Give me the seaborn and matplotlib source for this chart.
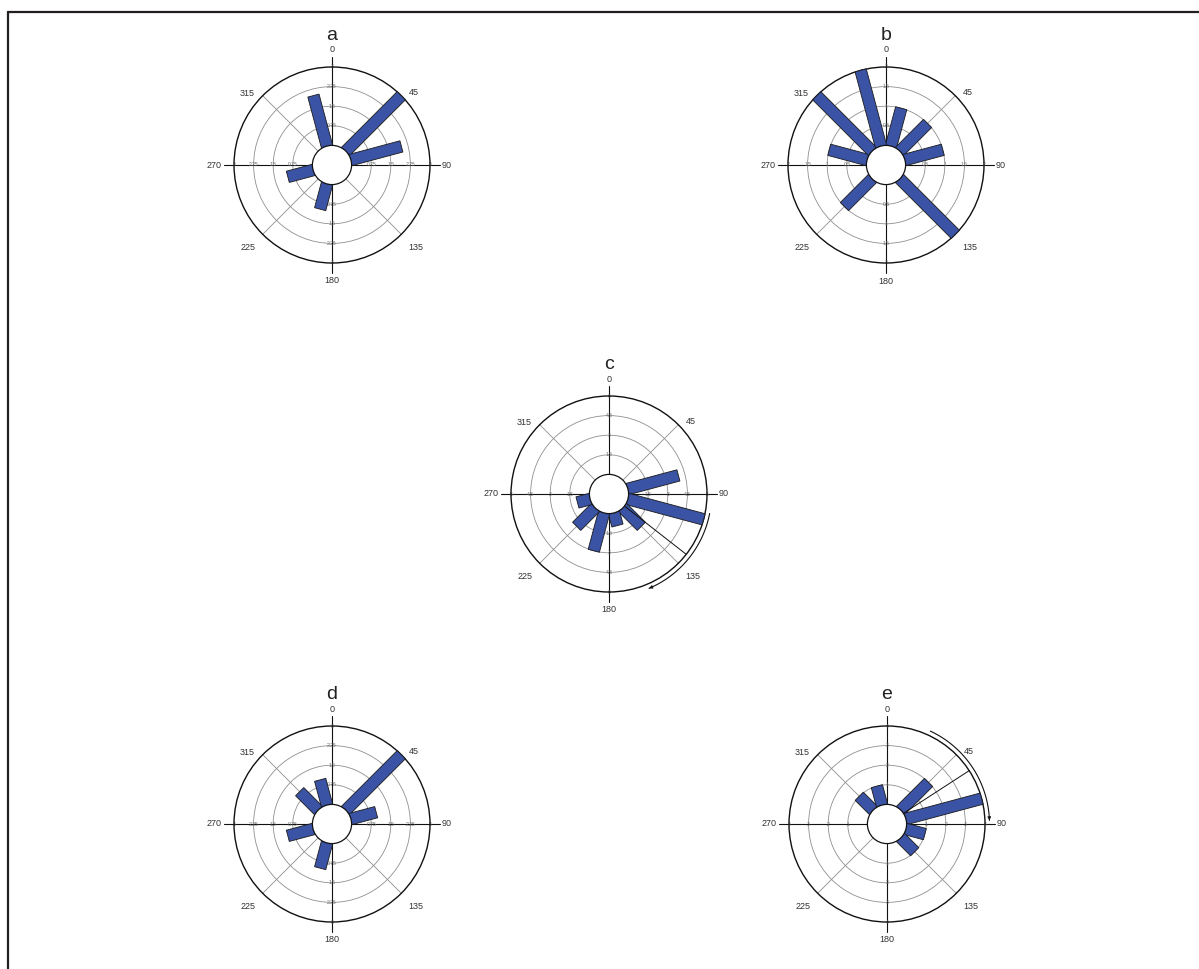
import numpy as np
import matplotlib
matplotlib.use("Agg")
import matplotlib.pyplot as plt
from matplotlib.patches import Circle, Polygon
from matplotlib.lines import Line2D
import seaborn as sns

sns.set_theme(style="white")
plt.rcParams["font.family"] = ["Liberation Sans", "DejaVu Sans"]

# ---- data: counts per 30-degree direction class ----
bin_centers = [15, 45, 75, 105, 135, 165, 195, 225, 255, 285, 315, 345]
counts_a = [0, 3, 2, 0, 0, 0, 1, 0, 1, 0, 0, 2]
counts_b = [1, 1, 1, 0, 2, 0, 0, 1, 0, 1, 2, 2]
counts_c = [0, 0, 4, 6, 2, 1, 3, 2, 1, 0, 0, 0]
counts_d = [0, 3, 1, 0, 0, 0, 1, 0, 1, 0, 1, 1]
counts_e = [0, 2, 4, 1, 1, 0, 0, 0, 0, 0, 1, 1]

panel_titles = ["a", "b", "c", "d", "e"]
scale_max = [3, 2, 6, 3, 4]
ring_labels_a = ["0.75", "1.5", "2.25", "3"]
ring_labels_b = ["0.5", "1", "1.5", "2"]
ring_labels_c = ["1.5", "3", "4.5", "6"]
ring_labels_d = ["0.75", "1.5", "2.25", "3"]
ring_labels_e = ["1", "2", "3", "4"]
compass_labels = ["0", "45", "90", "135", "180", "225", "270", "315"]

# mean direction and its confidence arc (degrees, clockwise from north)
mean_direction = {"c": 128, "e": 57}
confidence_arc = {"c": (101, 157), "e": (25, 88)}

# ---- layout (pixels) ----
FIG_W, FIG_H = 1199, 969
R_PX = 98          # outer circle radius
HALF_PX = 140      # half-size of each panel's axes
centers = [(332, 165), (886, 165), (609, 494), (332, 824), (887, 824)]

BAR_COLOR = "#3a53a4"
GRID_GRAY = "#8f8f8f"

fig = plt.figure(figsize=(FIG_W / 100, FIG_H / 100), dpi=100)


def unit(theta_deg):
    t = np.deg2rad(theta_deg)
    return np.array([np.sin(t), np.cos(t)])


def draw_rose(ax, counts, vmax, ring_labels, title, mean=None, arc=None):
    s = vmax * 1.25 / R_PX          # value units per pixel
    hole = vmax / 4.0
    outer = hole + vmax
    ax.set_xlim(-HALF_PX * s, HALF_PX * s)
    ax.set_ylim(-HALF_PX * s, HALF_PX * s)
    ax.set_aspect("equal")
    ax.axis("off")

    # rings
    for k in range(1, 4):
        ax.add_patch(Circle((0, 0), hole + vmax * k / 4, fill=False,
                            ec=GRID_GRAY, lw=0.6, zorder=1))
    ax.add_patch(Circle((0, 0), outer, fill=False, ec="#111111", lw=1.0, zorder=3))

    # diagonal spokes
    for ang in (45, 135, 225, 315):
        d = unit(ang)
        ax.plot([hole * d[0], outer * d[0]], [hole * d[1], outer * d[1]],
                color=GRID_GRAY, lw=0.6, zorder=1)

    # cardinal spokes with scale labels
    ext = outer + 10 * s
    for ang in (0, 90, 180, 270):
        d = unit(ang)
        ax.plot([hole * d[0], ext * d[0]], [hole * d[1], ext * d[1]],
                color="#111111", lw=0.8, zorder=2)
        for k, lab in enumerate(ring_labels, start=1):
            r = hole + vmax * k / 4
            ax.text(r * d[0], r * d[1], lab, fontsize=3.6, color="#6a6a6a",
                    ha="center", va="center", zorder=2.5)

    # petals: constant-width rectangles from the centre hole outwards
    hw = 5.8 * s
    for ang, n in zip(bin_centers, counts):
        if n <= 0:
            continue
        d = unit(ang)
        p = np.array([d[1], -d[0]])
        base = 0.75 * hole * d
        tip = (hole + n) * d
        pts = [base + hw * p, tip + hw * p, tip - hw * p, base - hw * p]
        ax.add_patch(Polygon(pts, closed=True, fc=BAR_COLOR, ec="#1a1a1a",
                             lw=0.6, zorder=4))

    # mean direction and confidence arc
    if mean is not None:
        d = unit(mean)
        ax.plot([hole * d[0], outer * d[0]], [hole * d[1], outer * d[1]],
                color="#111111", lw=0.7, zorder=5)
    if arc is not None:
        ra = outer + 4.5 * s
        th = np.linspace(arc[0], arc[1], 120)
        xs = ra * np.sin(np.deg2rad(th))
        ys = ra * np.cos(np.deg2rad(th))
        ax.plot(xs, ys, color="#111111", lw=0.8, zorder=5)
        ax.annotate("", xy=(xs[-1], ys[-1]), xytext=(xs[-4], ys[-4]),
                    arrowprops=dict(arrowstyle="-|>", color="#111111", lw=0.6,
                                    mutation_scale=5, shrinkA=0, shrinkB=0),
                    zorder=5)

    # centre hole
    ax.add_patch(Circle((0, 0), hole, fc="white", ec="#111111", lw=0.9, zorder=6))

    # compass labels
    label_pos = {0: (0, 115, "center"), 45: (48.5, 109, "center"),
                 90: (90, 110, "left"), 135: (134.5, 117, "center"),
                 180: (180, 116, "center"), 225: (225.5, 117, "center"),
                 270: (270, 110, "right"), 315: (310, 111, "center")}
    for lab in compass_labels:
        ang = int(lab)
        a, rp, ha = label_pos[ang]
        d = unit(a)
        ax.text(rp * s * d[0], rp * s * d[1], lab, fontsize=6.5, color="#333333",
                ha=ha, va="center")

    ax.text(0, 125 * s, title, fontsize=14, color="#222222",
            ha="center", va="baseline")


panel_counts = [counts_a, counts_b, counts_c, counts_d, counts_e]
panel_rings = [ring_labels_a, ring_labels_b, ring_labels_c, ring_labels_d, ring_labels_e]

for (cx, cy), counts, vmax, rl, title in zip(centers, panel_counts, scale_max,
                                              panel_rings, panel_titles):
    ax = fig.add_axes([(cx - HALF_PX) / FIG_W, 1 - (cy + HALF_PX) / FIG_H,
                       2 * HALF_PX / FIG_W, 2 * HALF_PX / FIG_H])
    draw_rose(ax, counts, vmax, rl, title,
              mean=mean_direction.get(title), arc=confidence_arc.get(title))

# frame lines along the top and left edges
fig.add_artist(Line2D([8 / FIG_W, 1.0], [1 - 12 / FIG_H, 1 - 12 / FIG_H],
                      transform=fig.transFigure, color="#231f20", lw=1.6))
fig.add_artist(Line2D([8 / FIG_W, 8 / FIG_W], [0, 1 - 12 / FIG_H],
                      transform=fig.transFigure, color="#231f20", lw=1.6))

fig.savefig("out.png", dpi=100, facecolor="white")
